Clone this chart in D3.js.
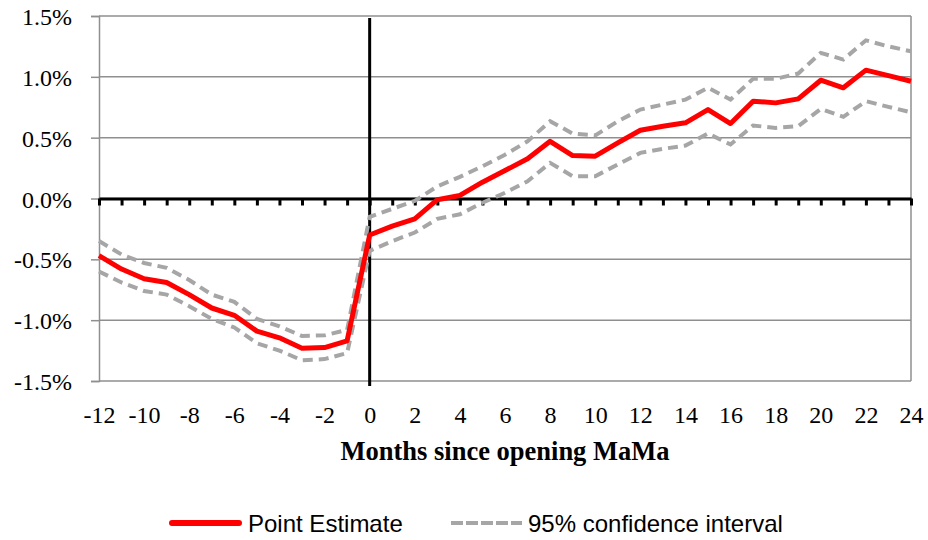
<!DOCTYPE html>
<html>
<head>
<meta charset="utf-8">
<script src="https://cdn.jsdelivr.net/npm/d3@7"></script>
<style>
  html, body { margin: 0; padding: 0; background: #fff; }
  svg { display: block; }
</style>
</head>
<body>
<svg id="chart" width="928" height="540"></svg>
<script>
const months = d3.range(-12, 25);
const pointEstimate = [
  -0.47, -0.58, -0.66, -0.69, -0.79, -0.90, -0.96, -1.09, -1.145, -1.23, -1.225, -1.17,
  -0.30, -0.227, -0.167, -0.01, 0.025, 0.134, 0.23, 0.326, 0.47, 0.353, 0.348, 0.457,
  0.561, 0.594, 0.622, 0.731, 0.616, 0.80, 0.786, 0.819, 0.972, 0.91, 1.055, 1.01, 0.964
];
const upperCI = [
  -0.35, -0.46, -0.53, -0.57, -0.67, -0.79, -0.85, -0.99, -1.05, -1.13, -1.125, -1.08,
  -0.15, -0.085, -0.02, 0.10, 0.178, 0.265, 0.36, 0.47, 0.635, 0.534, 0.518, 0.635,
  0.731, 0.772, 0.813, 0.91, 0.813, 0.984, 0.984, 1.027, 1.197, 1.142, 1.30, 1.25, 1.21
];
const lowerCI = [
  -0.60, -0.69, -0.76, -0.79, -0.885, -0.99, -1.06, -1.19, -1.25, -1.33, -1.32, -1.27,
  -0.43, -0.35, -0.28, -0.167, -0.13, -0.035, 0.047, 0.142, 0.293, 0.183, 0.183, 0.28,
  0.375, 0.408, 0.435, 0.534, 0.444, 0.60, 0.58, 0.594, 0.737, 0.671, 0.80, 0.753, 0.709
];
const yTicks = [-1.5, -1.0, -0.5, 0.0, 0.5, 1.0, 1.5];
const xLabelTicks = d3.range(-12, 25, 2);
const xTitle = "Months since opening MaMa";
const legendLabels = ["Point Estimate", "95% confidence interval"];

const svg = d3.select("#chart");
const x = d3.scaleLinear().domain([-12, 24]).range([99, 911]);
const y = d3.scaleLinear().domain([-1.5, 1.5]).range([381, 16]);

const grid = "#8f8f8f";
const ciColor = "#a6a6a6";
const serif = "'Liberation Serif', 'Times New Roman', serif";
const sans = "'Liberation Sans', Arial, sans-serif";

// horizontal gridlines
svg.append("g").selectAll("line").data(yTicks).join("line")
  .attr("x1", x(-12)).attr("x2", x(24))
  .attr("y1", d => y(d)).attr("y2", d => y(d))
  .attr("stroke", grid).attr("stroke-width", 1.5);

// right border
svg.append("line").attr("x1", x(24)).attr("x2", x(24))
  .attr("y1", y(1.5)).attr("y2", y(-1.5))
  .attr("stroke", grid).attr("stroke-width", 1.5);

// y axis
const yAxis = svg.append("g").attr("transform", `translate(${x(-12)},0)`)
  .call(d3.axisLeft(y).tickValues(yTicks).tickSize(8)
    .tickFormat(d => d.toFixed(1) + "%"));
yAxis.attr("font-family", null).attr("font-size", null);
yAxis.select(".domain").attr("stroke", grid).attr("stroke-width", 1.5);
yAxis.selectAll(".tick line").attr("stroke", grid).attr("stroke-width", 1.5);
yAxis.selectAll(".tick text")
  .attr("x", -27).attr("dy", "0.36em")
  .style("font-family", serif).style("font-size", "24px").attr("fill", "#000");

// x labels
const xAxis = svg.append("g").attr("transform", `translate(0,${y(-1.5)})`)
  .call(d3.axisBottom(x).tickValues(xLabelTicks).tickSize(0)
    .tickFormat(d => String(d)));
xAxis.attr("font-family", null).attr("font-size", null);
xAxis.select(".domain").remove();
xAxis.selectAll(".tick text")
  .attr("y", 42).attr("dy", 0)
  .style("font-family", serif).style("font-size", "24px").attr("fill", "#000");

// zero axis with monthly ticks
const zeroAxis = svg.append("g").attr("transform", `translate(0,${y(0)})`)
  .call(d3.axisBottom(x).tickValues(months).tickSize(7).tickSizeOuter(0).tickFormat(""));
zeroAxis.select(".domain").attr("stroke", "#000").attr("stroke-width", 3);
zeroAxis.selectAll(".tick line").attr("stroke", "#000").attr("stroke-width", 3);

// vertical line at month 0
svg.append("line").attr("x1", x(0)).attr("x2", x(0))
  .attr("y1", y(1.5) + 2).attr("y2", y(-1.5) + 5)
  .attr("stroke", "#000").attr("stroke-width", 3);

// x title
svg.append("text").attr("x", 505).attr("y", 460)
  .attr("text-anchor", "middle")
  .style("font-family", serif).style("font-weight", "bold").style("font-size", "26.5px")
  .attr("fill", "#000")
  .text(xTitle);

// series
const line = d3.line().x((d, i) => x(months[i])).y(d => y(d));
svg.append("path").datum(upperCI).attr("d", line)
  .attr("fill", "none").attr("stroke", ciColor).attr("stroke-width", 4)
  .attr("stroke-dasharray", "10,6");
svg.append("path").datum(lowerCI).attr("d", line)
  .attr("fill", "none").attr("stroke", ciColor).attr("stroke-width", 4)
  .attr("stroke-dasharray", "10,6");
svg.append("path").datum(pointEstimate).attr("d", line)
  .attr("fill", "none").attr("stroke", "#ff0000").attr("stroke-width", 5)
  .attr("stroke-linejoin", "round");

// legend
const lg = svg.append("g");
lg.append("line").attr("x1", 172).attr("x2", 239).attr("y1", 523).attr("y2", 523)
  .attr("stroke", "#ff0000").attr("stroke-width", 6).attr("stroke-linecap", "round");
lg.append("text").attr("x", 248).attr("y", 532)
  .style("font-family", sans).style("font-size", "24px").attr("fill", "#000")
  .text(legendLabels[0]);
lg.append("line").attr("x1", 451).attr("x2", 522).attr("y1", 523).attr("y2", 523)
  .attr("stroke", ciColor).attr("stroke-width", 4).attr("stroke-dasharray", "12,3");
lg.append("text").attr("x", 528).attr("y", 532)
  .style("font-family", sans).style("font-size", "24px").attr("fill", "#000")
  .text(legendLabels[1]);
</script>
</body>
</html>
